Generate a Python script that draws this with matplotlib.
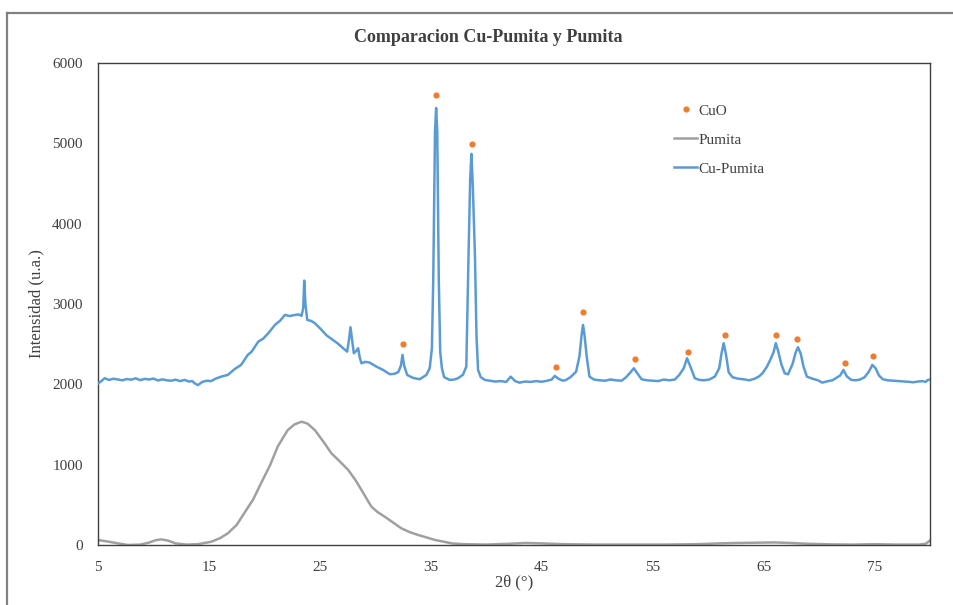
import matplotlib
matplotlib.use("Agg")
import matplotlib.pyplot as plt
from matplotlib.lines import Line2D

plt.rcParams['font.family'] = ['Liberation Serif', 'DejaVu Serif']

# Cu-Pumita pattern (2theta, intensity)
cu_x = [5.0, 5.3, 5.6, 6.0, 6.4, 6.8, 7.2, 7.6, 8.0, 8.4, 8.8, 9.2, 9.6, 10.0,
        10.4, 10.8, 11.2, 11.6, 12.0, 12.4, 12.8, 13.2, 13.5, 13.7, 14.0, 14.4,
        14.8, 15.2, 15.6, 16.1, 16.7, 17.3, 17.9, 18.5, 18.85, 19.45, 19.9, 20.35,
        20.95, 21.4, 21.85, 22.3, 22.75, 23.1, 23.35, 23.5, 23.59, 23.7, 23.86,
        24.2, 24.55, 25.0, 25.6, 26.1, 26.6, 27.1, 27.46, 27.62, 27.76, 27.9,
        28.06, 28.3, 28.45, 28.6, 28.75, 29.1, 29.5, 30.1, 30.7, 31.3, 31.7,
        32.06, 32.3, 32.45, 32.6, 32.87, 33.4, 34.0, 34.6, 34.9, 35.1, 35.22,
        35.38, 35.48, 35.58, 35.72, 35.85, 36.0, 36.2, 36.7, 37.1, 37.46, 37.9,
        38.2, 38.4, 38.55, 38.66, 38.78, 38.98, 39.12, 39.26, 39.5, 39.86, 40.3,
        40.8, 41.3, 41.8, 42.2, 42.6, 43.0, 43.5, 44.0, 44.5, 45.0, 45.5, 45.9,
        46.17, 46.5, 46.9, 47.2, 47.6, 48.1, 48.4, 48.6, 48.72, 48.85, 49.05,
        49.3, 49.7, 50.2, 50.7, 51.2, 51.7, 52.2, 52.6, 53.0, 53.3, 53.6, 54.0,
        54.5, 55.0, 55.5, 56.0, 56.5, 57.0, 57.4, 57.8, 58.1, 58.4, 58.8, 59.2,
        59.6, 60.1, 60.6, 61.0, 61.2, 61.4, 61.6, 61.85, 62.2, 62.7, 63.2, 63.7,
        64.2, 64.6, 64.9, 65.3, 65.6, 65.9, 66.1, 66.3, 66.6, 66.9, 67.2, 67.6,
        67.9, 68.1, 68.35, 68.6, 68.9, 69.4, 69.9, 70.3, 70.8, 71.2, 71.5, 71.9,
        72.2, 72.5, 72.9, 73.3, 73.7, 74.1, 74.5, 74.8, 75.1, 75.4, 75.75, 76.2,
        76.7, 77.3, 77.8, 78.2, 78.5, 78.9, 79.3, 79.6, 79.8, 80.0]
cu_y = [2010, 2040, 2076, 2055, 2070, 2060, 2050, 2066, 2058, 2075, 2052, 2068,
        2060, 2072, 2048, 2062, 2050, 2045, 2058, 2040, 2055, 2035, 2040, 2014,
        1990, 2030, 2045, 2040, 2070, 2096, 2117, 2188, 2242, 2366, 2407, 2532,
        2570, 2636, 2740, 2790, 2864, 2850, 2864, 2870, 2852, 2950, 3291, 3000,
        2802, 2790, 2761, 2700, 2610, 2560, 2510, 2449, 2407, 2550, 2711, 2560,
        2387, 2420, 2449, 2330, 2262, 2280, 2270, 2220, 2179, 2126, 2130, 2151,
        2230, 2366, 2230, 2117, 2080, 2063, 2117, 2200, 2450, 3300, 5150, 5440,
        5150, 3300, 2400, 2200, 2090, 2055, 2060, 2076, 2120, 2220, 3600, 4550,
        4869, 4500, 3600, 2600, 2179, 2090, 2055, 2046, 2035, 2040, 2030, 2096,
        2040, 2021, 2035, 2030, 2040, 2032, 2045, 2060, 2105, 2070, 2045, 2055,
        2090, 2158, 2350, 2620, 2740, 2620, 2350, 2096, 2060, 2050, 2045, 2060,
        2050, 2045, 2088, 2150, 2200, 2140, 2063, 2050, 2045, 2040, 2060, 2050,
        2060, 2117, 2200, 2325, 2220, 2076, 2055, 2050, 2060, 2096, 2200, 2380,
        2512, 2380, 2150, 2088, 2070, 2063, 2050, 2070, 2100, 2138, 2220, 2304,
        2400, 2512, 2420, 2250, 2138, 2125, 2250, 2400, 2462, 2380, 2220, 2096,
        2070, 2050, 2021, 2040, 2050, 2076, 2110, 2179, 2100, 2055, 2050, 2060,
        2088, 2160, 2242, 2200, 2110, 2063, 2050, 2045, 2040, 2035, 2030, 2025,
        2035, 2040, 2030, 2055, 2060]

# Pumita pattern
pu_x = [5.0, 5.8, 6.8, 7.7, 8.8, 9.6, 10.2, 10.7, 11.3, 12.0, 13.0, 14.0, 15.2,
        16.0, 16.7, 17.5, 18.2, 19.0, 19.7, 20.5, 21.2, 21.7, 22.1, 22.7, 23.35,
        23.9, 24.55, 25.3, 26.05, 26.8, 27.55, 28.2, 28.75, 29.2, 29.65, 30.2,
        30.85, 31.6, 32.35, 33.1, 33.85, 34.6, 35.4, 36.2, 36.9, 38.0, 40.0, 42.0,
        43.5, 45.0, 47.0, 50.0, 53.0, 56.0, 59.0, 61.0, 62.5, 64.0, 66.0, 67.5,
        69.0, 71.0, 73.0, 75.0, 77.0, 79.0, 79.6, 80.0]
pu_y = [62, 45, 20, 0, 5, 30, 60, 70, 55, 20, 5, 10, 40, 85, 145, 250, 400, 570,
        770, 990, 1225, 1340, 1430, 1500, 1535, 1510, 1430, 1290, 1140, 1040, 935,
        810, 685, 580, 477, 410, 352, 280, 207, 160, 125, 95, 62, 40, 20, 10, 5,
        15, 25, 20, 10, 5, 5, 5, 10, 20, 25, 28, 32, 25, 15, 8, 5, 10, 5, 5, 15, 55]

# CuO reference markers
cuo_x = [32.5, 35.5, 38.7, 46.3, 48.7, 53.4, 58.2, 61.5, 66.1, 68.0, 72.3, 74.9]
cuo_y = [2500, 5600, 4990, 2215, 2900, 2316, 2400, 2615, 2615, 2565, 2270, 2355]

x_ticks = [5, 15, 25, 35, 45, 55, 65, 75]
y_ticks = [0, 1000, 2000, 3000, 4000, 5000, 6000]

fig = plt.figure(figsize=(9.54, 6.05), dpi=100)
ax = fig.add_axes([98/954, 1-545/605, (930-98)/954, (545-63)/605])

blue = '#5B9BD5'
gray = '#A0A0A0'
orange = '#ED7D31'

ax.plot(pu_x, pu_y, color=gray, lw=1.8, zorder=2, solid_joinstyle='round')
ax.plot(cu_x, cu_y, color=blue, lw=1.8, zorder=3, solid_joinstyle='round')
ax.plot(cuo_x, cuo_y, 'o', color=orange, ms=4.5, mec='none', zorder=4)

ax.set_xlim(5, 80)
ax.set_ylim(0, 6000)
ax.set_xticks(x_ticks)
ax.set_yticks(y_ticks)
ax.tick_params(length=0, labelsize=11, colors='#404040')
ax.tick_params(axis='x', pad=11.5)
ax.tick_params(axis='y', pad=11)
for s in ax.spines.values():
    s.set_color('#404040')
    s.set_linewidth(1.0)

ax.set_xlabel('2θ (°)', fontsize=12, color='#404040', labelpad=0)
ax.set_ylabel('Intensidad (u.a.)', fontsize=12, color='#404040', labelpad=5.5)
fig.text(488/954, 1-38/605, 'Comparacion Cu-Pumita y Pumita', ha='center',
         va='center', fontsize=13, fontweight='bold', color='#404040')

handles = [Line2D([], [], ls='none', marker='o', color=orange, ms=4.5, mec='none'),
           Line2D([], [], color=gray, lw=1.8),
           Line2D([], [], color=blue, lw=1.8)]
leg = ax.legend(handles, ['CuO', 'Pumita', 'Cu-Pumita'], frameon=False,
                loc='upper left', bbox_to_anchor=((668-98)/832, (545-98)/482),
                fontsize=11, handlelength=1.5, handletextpad=0.1,
                labelspacing=1.0, borderaxespad=0)
for t in leg.get_texts():
    t.set_color('#404040')

# outer chart-area frame (cropped)
fig.add_artist(Line2D([7/954, 7/954], [0, 1-13/605], transform=fig.transFigure,
                      color='#808080', lw=1.6))
fig.add_artist(Line2D([7/954, 1], [1-13/605, 1-13/605], transform=fig.transFigure,
                      color='#808080', lw=1.6))

fig.savefig('out.png', dpi=100)
